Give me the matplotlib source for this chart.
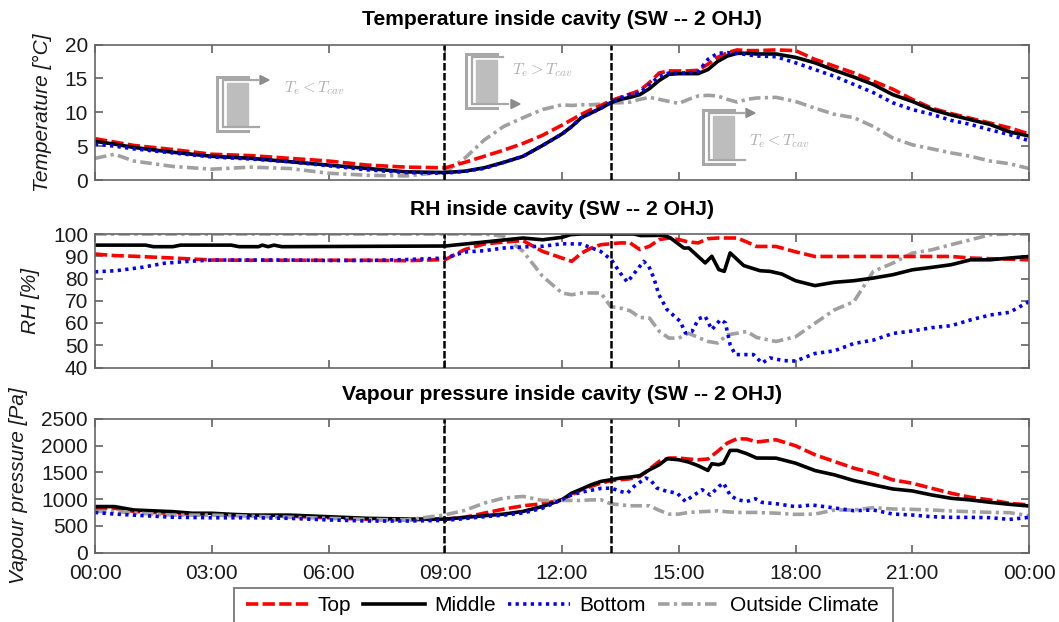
from matplotlib import pyplot as plt
from matplotlib.lines import Line2D
from matplotlib.patches import Polygon, Rectangle

plt.rcParams["font.family"] = ["Liberation Sans", "DejaVu Sans"]
plt.rcParams["mathtext.fontset"] = "cm"

FIG_W, FIG_H = 1059, 622

hours = [0, 0.5, 1, 2, 3, 4, 5, 6, 7, 8,
         9, 9.5, 10, 10.5, 11, 11.5,
         12, 12.25, 12.5, 12.75, 13, 13.25, 13.5, 13.75, 14, 14.25, 14.5, 14.75,
         15, 15.25, 15.5, 15.75, 16, 16.25, 16.5, 16.75, 17,
         17.5, 18, 18.5, 19, 19.5, 20, 20.5, 21, 21.5, 22, 22.5, 23, 23.5, 24]

temp_top = [6.1, 5.6, 5.1, 4.5, 3.8, 3.6, 3.2, 2.8, 2.2, 1.9,
            1.8, 2.6, 3.5, 4.4, 5.4, 6.6,
            8.1, 8.9, 9.7, 10.4, 11.0, 11.7, 12.2, 12.7, 13.2, 14.4, 15.8, 16.1,
            16.1, 16.1, 16.2, 17.1, 18.1, 18.8, 19.2, 19.1, 19.1,
            19.2, 19.1, 17.8, 16.8, 15.8, 14.6, 13.4, 11.9, 10.6, 9.8, 9.1, 8.4, 7.7, 6.8]
temp_middle = [5.7, 5.3, 4.8, 4.1, 3.5, 3.2, 2.7, 2.2, 1.7, 1.2,
               1.1, 1.3, 1.8, 2.6, 3.5, 5.1,
               6.8, 7.9, 9.2, 9.9, 10.6, 11.4, 11.9, 12.2, 12.6, 13.5, 14.7, 15.6,
               15.7, 15.7, 15.7, 16.3, 17.5, 18.3, 18.7, 18.7, 18.6,
               18.6, 18.1, 17.3, 16.2, 15.2, 14.1, 12.6, 11.6, 10.4, 9.6, 8.9, 8.2, 7.1, 6.5]
temp_bottom = [5.3, 5.0, 4.6, 4.0, 3.4, 3.1, 2.7, 2.1, 1.5, 1.1,
               1.0, 1.3, 1.7, 2.6, 3.5, 5.1,
               6.8, 7.9, 9.2, 9.9, 10.6, 11.4, 12.1, 12.6, 12.9, 14.1, 15.3, 15.8,
               15.8, 15.8, 16.0, 17.8, 18.7, 18.8, 18.7, 18.5, 18.3,
               18.2, 17.3, 16.3, 15.3, 14.1, 12.9, 11.4, 10.4, 9.7, 8.8, 8.2, 7.4, 6.7, 5.8]
temp_outside = [3.2, 3.8, 2.8, 2.0, 1.6, 1.9, 1.7, 1.0, 0.7, 0.6,
                1.2, 3.2, 5.9, 7.9, 9.2, 10.4,
                11.1, 11.0, 11.1, 11.1, 11.2, 11.4, 11.4, 11.5, 11.9, 12.2, 11.9, 11.6,
                11.3, 11.9, 12.4, 12.5, 12.4, 11.9, 11.5, 11.9, 12.1,
                12.2, 11.6, 10.6, 9.7, 9.2, 7.9, 6.2, 5.2, 4.6, 4.0, 3.5, 2.8, 2.4, 1.7]

rh_top = [91, 90.3, 90, 89.2, 88.3, 88.2, 88.2, 88.2, 88.2, 88,
          88.5, 93, 95.5, 96.4, 97, 92.2,
          89.2, 87.7, 91.4, 93.7, 95.2, 95.6, 96, 96, 93, 94.5, 97.5, 98.2,
          97.5, 96.4, 96, 97.9, 98.2, 98.2, 98.2, 96.4, 94.4,
          94.4, 92, 89.9, 89.9, 89.9, 89.9, 89.9, 89.9, 89.9, 89.9, 89.2, 88.9, 88.7, 88.4]
rh_outside = [100, 100, 100, 100, 100, 100, 100, 100, 100, 100,
              100, 100, 100, 99, 92.2, 81,
              73.5, 72.7, 73.5, 73.5, 73.5, 67.4, 66.7, 65.5, 62.5, 62.2, 56.2, 53.2,
              53.2, 55.4, 53.5, 51.7, 51, 54.7, 55.4, 56.2, 53.5,
              51.7, 53.8, 59.9, 65.9, 69.6, 83.2, 86.9, 91.4, 92.9, 95.2, 97.4, 99.7, 100, 100]
rh_middle_hours = [0, 1.3, 1.5, 2, 2.2, 3.5, 3.7, 4.2, 4.3, 4.45, 4.6, 4.8, 9, 10, 11, 11.5, 12,
                   12.22, 12.48, 13.85, 14.02, 14.62, 14.79, 15.13, 15.26, 15.68, 15.85, 16.03,
                   16.17, 16.32, 16.67, 17.09, 17.35, 17.65, 18, 18.5, 19, 19.5, 20, 20.5, 21,
                   21.5, 22, 22.5, 23, 23.5, 24]
rh_middle = [95, 95, 94.3, 94.3, 95, 95, 94.3, 94.3, 95, 94.3, 95, 94.3, 94.6, 96.4, 98.2, 97.4, 98.5,
             99.7, 100, 100, 99.3, 99.4, 98.2, 93.7, 93.7, 87, 90, 84,
             83.2, 91.5, 85.8, 83.5, 83.2, 82, 79, 76.8, 78.3, 79, 80.2, 81.7, 83.9,
             85, 86.2, 88.4, 88.4, 89.2, 89.9]
rh_bottom_hours = [0, 0.54, 1.2, 1.8, 2.4, 3, 4, 5, 6, 7, 8, 9, 9.5, 10, 10.5, 11, 11.5, 12, 12.5,
                   12.99, 13.27, 13.5, 13.68, 14.1, 14.23, 14.36, 14.49, 14.7, 15.04, 15.17, 15.34,
                   15.51, 15.68, 15.85, 16.07, 16.2, 16.32, 16.45, 16.75, 16.92, 17.14, 17.35, 17.69,
                   18, 18.5, 19, 19.5, 20, 20.5, 21, 21.5, 22, 22.5, 23, 23.5, 24]
rh_bottom = [83, 83.5, 85, 86.9, 87.7, 88.3, 88.3, 88.3, 88.1, 88.1, 88.5, 89.2, 91.9, 92.5, 93.7, 94.2, 94.5, 95.6, 95.5,
             92.2, 88.4, 82.4, 78.4, 87.7, 85.5, 80.2, 72.7, 66, 60.7, 55.5, 56.2,
             61.9, 63, 57, 61.5, 60, 50.3, 45.8, 45.8, 45.8, 42, 44.3, 43.1,
             42.9, 46.3, 47.5, 50.8, 52.3, 55.3, 56.4, 57.9, 58.8, 61.4, 63.6, 64.8, 69.6]

vp_top = [830, 830, 770, 730, 710, 690, 680, 650, 620, 610,
          625, 660, 737, 812, 875, 912,
          988, 1081, 1175, 1240, 1300, 1344, 1362, 1381, 1425, 1562, 1706, 1769,
          1769, 1750, 1737, 1750, 1894, 2050, 2131, 2125, 2069,
          2112, 1999, 1830, 1704, 1579, 1485, 1360, 1297, 1203, 1109, 1034, 984, 921, 890]
vp_outside = [770, 770, 740, 700, 700, 680, 660, 640, 620, 610,
              706, 788, 925, 1019, 1050, 975,
              975, 975, 975, 985, 988, 912, 894, 875, 875, 875, 788, 719,
              719, 750, 762, 770, 781, 762, 750, 750, 750,
              737, 714, 720, 796, 796, 840, 815, 808, 796, 777, 764, 752, 746, 689]
vp_middle_hours = [0, 0.5, 1, 2, 2.5, 3, 3.5, 4, 5, 6, 7, 8, 9, 10, 10.5, 11, 11.5, 12, 12.25, 12.5,
                   12.75, 13, 13.25, 13.5, 13.75, 14, 14.25, 14.5, 14.7, 15, 15.25, 15.5, 15.75,
                   15.85, 16.03, 16.15, 16.32, 16.5, 16.75, 17, 17.5, 18, 18.5, 19, 19.5, 20, 20.5,
                   21, 21.5, 22, 22.5, 23, 23.5, 24]
vp_middle = [860, 860, 796, 765, 735, 735, 715, 700, 700, 670, 640, 627, 625, 688, 719, 769, 862, 988, 1112, 1188,
             1269, 1331, 1362, 1394, 1412, 1438, 1550, 1644, 1756, 1737, 1694, 1625, 1537,
             1662, 1644, 1675, 1912, 1912, 1850, 1769, 1767, 1673, 1535, 1454, 1347, 1266, 1190,
             1153, 1078, 1015, 984, 940, 902, 871]
vp_bottom_hours = [0, 0.5, 1, 2, 3, 4, 5, 6, 7, 8, 9, 10, 10.5, 11, 11.5, 12, 12.25, 12.5, 13, 13.27,
                   13.5, 13.68, 13.85, 14.15, 14.27, 14.44, 14.7, 14.96, 15.17, 15.34, 15.6, 15.81,
                   16.03, 16.15, 16.32, 16.5, 16.75, 16.97, 17.14, 17.52, 18, 18.42, 18.88, 19.5, 20,
                   20.5, 21, 21.5, 22, 22.5, 23, 23.5, 24]
vp_bottom = [750, 720, 700, 660, 650, 650, 640, 610, 590, 590, 600, 670, 700, 740, 830, 990, 1080, 1130, 1200, 1206,
             1144, 1112, 1237, 1394, 1362, 1206, 1144, 1112, 956, 1050, 1175, 1075,
             1237, 1300, 1075, 988, 956, 1006, 938, 912, 858, 890, 846, 783, 796,
             720, 702, 670, 658, 658, 652, 620, 658]

event_hours = [8.97, 13.25]
tick_hours = [0, 3, 6, 9, 12, 15, 18, 21, 24]
tick_labels = ["00:00", "03:00", "06:00", "09:00", "12:00", "15:00", "18:00", "21:00", "00:00"]
legend_labels = ["Top", "Middle", "Bottom", "Outside Climate"]

titles = ["Temperature inside cavity (SW -- 2 OHJ)",
          "RH inside cavity (SW -- 2 OHJ)",
          "Vapour pressure inside cavity (SW -- 2 OHJ)"]

RED = dict(color="#ff0000", linewidth=2.6, linestyle=(0, (3.4, 1.2)))
BLACK = dict(color="black", linewidth=2.6, linestyle="-")
BLUE = dict(color="#0000ff", linewidth=2.6, linestyle=(0, (0.9, 1.2)))
GRAY = dict(color="#a0a0a0", linewidth=2.6, linestyle=(0, (3.2, 1.2, 0.9, 1.2)))
ICON_GRAY = "#a8a8a8"


def px(x, y):
    return x / FIG_W, 1 - y / FIG_H


def axes_at(left, top, right, bottom):
    x0, y0 = px(left, bottom)
    return fig.add_axes([x0, y0, (right - left) / FIG_W, (bottom - top) / FIG_H])


def style_axes(ax, title, ylabel, label_x, yticks):
    ax.set_xlim(0, 24)
    ax.set_ylim(yticks[0], yticks[-1])
    ax.set_yticks(yticks)
    ax.set_xticks(tick_hours)
    ax.set_xticklabels([])
    ax.tick_params(direction="in", length=6, width=1.1, color="#555555", labelsize=15,
                   top=True, right=True, pad=5, labelcolor="#1a1a1a")
    for spine in ax.spines.values():
        spine.set_color("#666666")
        spine.set_linewidth(1.2)
    ax.set_title(title, fontsize=15.2, fontweight="bold", pad=14)
    ax.set_ylabel(ylabel, fontsize=15, fontstyle="italic", color="#1a1a1a")
    ax.yaxis.set_label_coords((label_x - 95) / 934, 0.5)
    for hour in event_hours:
        ax.axvline(hour, color="black", linewidth=1.8, linestyle=(0, (3, 1)), zorder=5)


def poly_line(xs, ys, width=2.2):
    pts = [px(x, y) for x, y in zip(xs, ys)]
    fig.add_artist(Line2D([p[0] for p in pts], [p[1] for p in pts], color=ICON_GRAY,
                          linewidth=width, transform=fig.transFigure, solid_joinstyle="miter"))


def draw_icon(left, top, arrow_on_top):
    # cavity sketch, sizes in pixels from the top left corner of the icon
    x0, y0 = px(left + 10, top + 6)
    fig.add_artist(Rectangle((x0, y0 - 42 / FIG_H), 21 / FIG_W, 42 / FIG_H, color="#bdbdbd",
                             transform=fig.transFigure))
    poly_line([left + 31, left, left, left + 31], [top, top, top + 54, top + 54])
    end_top = left + 42 if arrow_on_top else left + 37
    poly_line([end_top, left + 6, left + 6, left + 42], [top + 3, top + 3, top + 50, top + 50], 1.6)
    arrow_y = top + 3 if arrow_on_top else top + 50
    tip = left + 52 if arrow_on_top else left + 54
    head = [px(tip, arrow_y), px(tip - 9, arrow_y - 4.5), px(tip - 9, arrow_y + 4.5)]
    fig.add_artist(Polygon(head, color="#8c8c8c", transform=fig.transFigure))


fig = plt.figure(figsize=(FIG_W / 100, FIG_H / 100), dpi=100)

ax_temp = axes_at(95, 44.5, 1029, 180)
ax_rh = axes_at(95, 234, 1029, 367.5)
ax_vp = axes_at(95, 419, 1029, 552.5)

ax_temp.plot(hours, temp_outside, **GRAY)
ax_temp.plot(hours, temp_top, **RED)
ax_temp.plot(hours, temp_middle, **BLACK)
ax_temp.plot(hours, temp_bottom, **BLUE)

ax_rh.plot(hours, rh_outside, **GRAY)
ax_rh.plot(hours, rh_top, **RED)
ax_rh.plot(rh_middle_hours, rh_middle, **BLACK)
ax_rh.plot(rh_bottom_hours, rh_bottom, **BLUE)

ax_vp.plot(hours, vp_top, **RED)
ax_vp.plot(vp_middle_hours, vp_middle, **BLACK)
ax_vp.plot(hours, vp_outside, **GRAY)
ax_vp.plot(vp_bottom_hours, vp_bottom, **BLUE)

style_axes(ax_temp, titles[0], "Temperature [°C]", 52, [0, 5, 10, 15, 20])
style_axes(ax_rh, titles[1], "RH [%]", 40, [40, 50, 60, 70, 80, 90, 100])
style_axes(ax_vp, titles[2], "Vapour pressure [Pa]", 28, [0, 500, 1000, 1500, 2000, 2500])
ax_vp.set_xticklabels(tick_labels)
ax_vp.tick_params(axis="x", pad=8)

draw_icon(217, 77, True)
draw_icon(466, 54, False)
draw_icon(703, 110, True)
for x, y, text in [(284, 88, r"$T_e < T_{cav}$"), (512, 70, r"$T_e > T_{cav}$"), (749, 141, r"$T_e < T_{cav}$")]:
    fx, fy = px(x, y)
    fig.text(fx, fy, text, color="#b0b0b0", fontsize=11.5, va="center", ha="left")

box_x, box_y = px(234, 628)
fig.add_artist(Rectangle((box_x, box_y), (893 - 234) / FIG_W, 40 / FIG_H, facecolor="white",
                         edgecolor="#777777", linewidth=1.3, transform=fig.transFigure))
handles = [Line2D([], [], **RED), Line2D([], [], **BLACK), Line2D([], [], **BLUE), Line2D([], [], **GRAY)]
fig.legend(handles, legend_labels, ncol=4, frameon=False, fontsize=15, loc="lower left",
           bbox_to_anchor=px(246, 615), borderpad=0, borderaxespad=0, handlelength=3,
           handletextpad=0.45, columnspacing=0.55)

fig.savefig("out.png", dpi=100)
